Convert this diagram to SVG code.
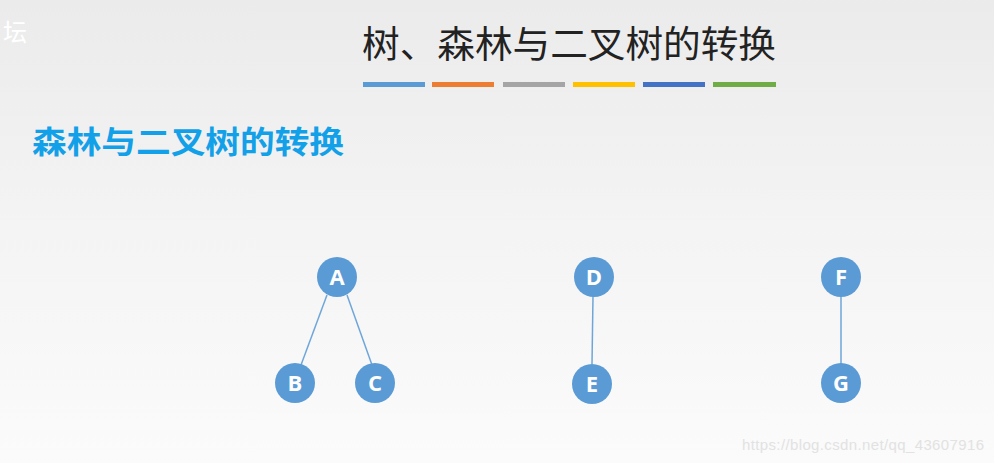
<svg xmlns="http://www.w3.org/2000/svg" width="994" height="463" viewBox="0 0 994 463">
<defs>
<linearGradient id="bg" x1="0" y1="0" x2="0" y2="1">
<stop offset="0" stop-color="#ebebeb"/>
<stop offset="0.5" stop-color="#f4f4f4"/>
<stop offset="1" stop-color="#fbfbfb"/>
</linearGradient>
<style>
.node circle{fill:#5b9bd5;}
.node text{fill:#ffffff;font-family:"Open Sans","Liberation Sans",sans-serif;font-weight:bold;font-size:22px;text-anchor:middle;}
.edge{stroke:#6fa6da;stroke-width:1.5;fill:none;}
.cjk{font-family:"Noto Sans CJK SC","Noto Sans CJK JP",sans-serif;}
</style>
</defs>
<rect width="994" height="463" fill="url(#bg)"/>
<text x="3" y="41" class="cjk" font-size="24" fill="#ffffff">坛</text>
<text x="362" y="58" class="cjk" font-size="37" fill="#222222" textLength="414" lengthAdjust="spacingAndGlyphs">树、森林与二叉树的转换</text>
<rect x="363" y="82" width="62" height="5" fill="#5b9bd5"/>
<rect x="432" y="82" width="62" height="5" fill="#ed7d31"/>
<rect x="503" y="82" width="62" height="5" fill="#a5a5a5"/>
<rect x="573" y="82" width="62" height="5" fill="#ffc000"/>
<rect x="643" y="82" width="62" height="5" fill="#4472c4"/>
<rect x="713" y="82" width="63" height="5" fill="#70ad47"/>
<text x="32" y="153" class="cjk" font-size="31" font-weight="bold" fill="#12a0e8" textLength="312" lengthAdjust="spacingAndGlyphs">森林与二叉树的转换</text>
<g id="connectors">
<line class="edge" x1="327" y1="295" x2="301" y2="365"/>
<line class="edge" x1="347" y1="295" x2="372" y2="365"/>
<line class="edge" x1="593" y1="296" x2="592" y2="364"/>
<line class="edge" x1="841" y1="296" x2="841" y2="364"/>
</g>
<g id="A" class="node"><circle cx="337" cy="277" r="20"/><text x="337" y="285">A</text></g>
<g id="B" class="node"><circle cx="295" cy="383" r="20"/><text x="295" y="391">B</text></g>
<g id="C" class="node"><circle cx="375" cy="383" r="20"/><text x="375" y="391">C</text></g>
<g id="D" class="node"><circle cx="594" cy="277" r="20"/><text x="594" y="285">D</text></g>
<g id="E" class="node"><circle cx="592" cy="384" r="20"/><text x="592" y="392">E</text></g>
<g id="F" class="node"><circle cx="841" cy="277" r="20"/><text x="841" y="285">F</text></g>
<g id="G" class="node"><circle cx="841" cy="383" r="20"/><text x="841" y="391">G</text></g>
<text x="742" y="450" font-family="Liberation Sans, Arial, sans-serif" font-size="15" fill="#e2e2e2" textLength="242">https://blog.csdn.net/qq_43607916</text>
</svg>
